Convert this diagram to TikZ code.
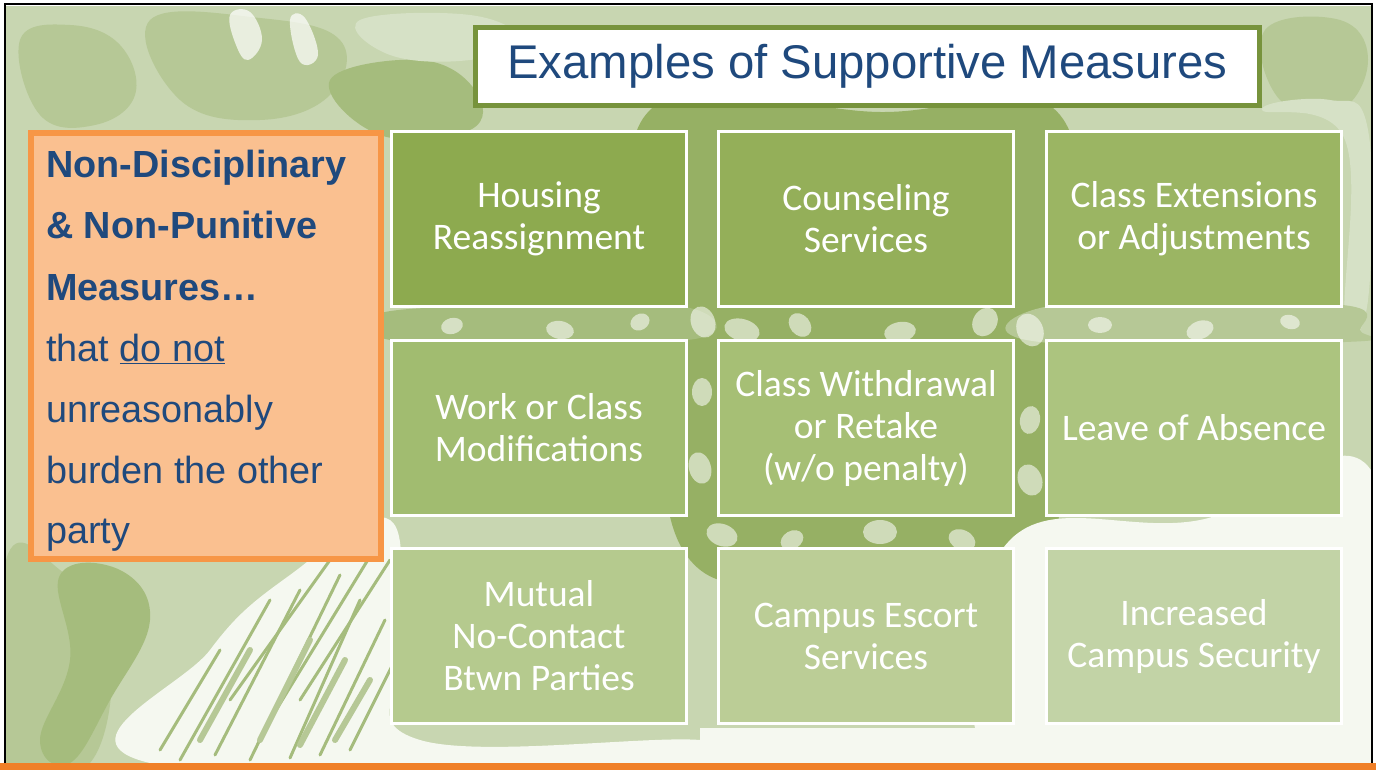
\documentclass[tikz,border=0pt]{standalone}
\usepackage{fontspec}
\setmainfont{Carlito}
\newfontfamily\arialf{Liberation Sans}
\definecolor{navy}{RGB}{31,73,125}
\definecolor{titlegreen}{RGB}{119,147,60}
\definecolor{orangeedge}{RGB}{247,150,70}
\definecolor{orangefill}{RGB}{250,192,144}
\definecolor{orangebar}{RGB}{240,128,40}
\definecolor{bgbase}{RGB}{200,214,177}
\definecolor{bglight}{RGB}{214,225,198}
\definecolor{bgmid}{RGB}{182,200,150}
\definecolor{bgdark}{RGB}{165,188,125}
\definecolor{bgdeep}{RGB}{150,176,100}
\definecolor{bgwhite}{RGB}{245,248,240}
\definecolor{tA}{RGB}{141,170,79}
\definecolor{tB}{RGB}{148,175,89}
\definecolor{tC}{RGB}{155,181,99}
\definecolor{tD}{RGB}{161,188,112}
\definecolor{tE}{RGB}{166,191,117}
\definecolor{tF}{RGB}{172,196,127}
\definecolor{tG}{RGB}{181,202,142}
\definecolor{tH}{RGB}{187,205,150}
\definecolor{tI}{RGB}{194,211,166}
\begin{document}
\begin{tikzpicture}[x=1pt,y=-1pt,
  tile/.style={draw=white,line width=3pt,minimum width=295pt,minimum height=175pt,
    inner sep=0pt,text=white,align=center,font=\fontsize{37.5}{42}\selectfont},
  lefttext/.style={anchor=base west,inner sep=0pt,text=navy,font=\arialf\fontsize{37.8}{45}\selectfont},
  leftbold/.style={lefttext,font=\arialf\bfseries\fontsize{37.8}{45}\selectfont},
  blob/.style={smooth cycle,tension=0.7},
]
\useasboundingbox (0,0) rectangle (1376,770);
\fill[white] (0,0) rectangle (1376,770);
% ---------- background texture ----------
\begin{scope}
\clip (6,6) rectangle (1371,763);
\fill[bgbase] (6,6) rectangle (1371,763);
\fill[bgmid] plot[blob] coordinates {(20,40) (70,25) (120,45) (135,95) (95,125) (40,115)};
\fill[bgmid] plot[blob] coordinates {(150,20) (260,18) (340,40) (330,95) (260,120) (180,100)};
\fill[bgdark] plot[blob] coordinates {(330,80) (420,60) (475,90) (470,130) (380,135)};
\fill[bglight] plot[blob] coordinates {(360,20) (470,15) (520,40) (470,60) (390,55)};
\fill[white,opacity=0.7] plot[blob] coordinates {(230,15) (250,12) (262,40) (248,60) (236,45)};
\fill[white,opacity=0.7] plot[blob] coordinates {(290,20) (305,18) (318,55) (300,62)};
\fill[bgmid] plot[blob] coordinates {(1265,30) (1340,20) (1368,60) (1340,110) (1280,100)};
\fill[bglight] plot[blob] coordinates {(1262,110) (1330,100) (1368,130) (1368,300) (1345,320) (1345,140)};
% central darker area behind tiles
\fill[bgdeep] plot[blob] coordinates {(650,110) (880,112) (1060,115) (1060,330) (1040,560) (860,570) (690,560) (660,330)};
\fill[bgdark] plot[blob] coordinates {(385,312) (560,306) (690,308) (700,338) (540,342) (390,340)};
\fill[bgmid] plot[blob] coordinates {(1040,308) (1200,304) (1350,306) (1360,330) (1345,342) (1040,342)};
% pale petals in gaps
\foreach \cx/\cy/\rx/\ry/\a in {703/322/12/16/20, 742/330/18/11/-15, 800/325/10/13/40, 900/332/16/10/10,
  985/322/12/15/-30, 1030/330/13/17/25, 702/392/10/14/0, 700/468/11/16/15, 1030/420/10/14/-10,
  1030/480/12/16/20, 722/535/16/11/-20, 792/540/12/9/30, 880/532/17/12/0, 962/540/14/10/-25,
  452/326/11/8/15, 560/330/14/9/-10, 640/322/10/8/30, 1100/325/12/8/0, 1200/330/14/9/20, 1290/322/10/7/-15}
  \fill[white,opacity=0.55,rotate around={\a:(\cx,\cy)}] (\cx,\cy) ellipse[x radius=\rx,y radius=\ry];
% bottom-right white
\fill[bgwhite] plot[blob] coordinates {(1010,540) (1200,520) (1371,470) (1371,763) (1100,763) (980,745)};
\fill[bgwhite] (700,728) rectangle (1371,763);
% left lower area
\fill[bgmid] plot[blob] coordinates {(6,560) (60,570) (110,640) (90,763) (6,763)};
\fill[bgdark] plot[blob] coordinates {(60,575) (120,570) (150,620) (110,700) (70,763) (40,740) (70,660)};
% white streaks bottom-left
\fill[bgwhite] plot[blob] coordinates {(150,763) (210,650) (290,575) (390,520) (400,650) (420,740) (700,740) (700,763)};
\foreach \xa/\ya/\xb/\yb in {180/760/270/600, 215/755/300/590, 250/760/340/575, 290/758/360/600,
  320/755/385/620, 350/750/395/660, 230/700/330/560, 270/720/380/540, 160/750/220/650, 300/700/390/560}
  \draw[bgdark,line width=3pt,line cap=round] (\xa,\ya) -- (\xb,\yb);
\foreach \xa/\ya/\xb/\yb in {200/740/250/650, 260/740/310/640, 300/745/345/660, 335/740/370/680}
  \draw[bgmid,line width=6pt,line cap=round] (\xa,\ya) -- (\xb,\yb);
\end{scope}
% ---------- frame ----------
\fill[orangebar] (0,763) rectangle (1376,770);
\draw[black,line width=2.5pt] (5,763) -- (5,4) -- (1372,4) -- (1372,763);
% ---------- title ----------
\node[draw=titlegreen,fill=white,line width=5pt,minimum width=784pt,minimum height=78pt,inner sep=0pt]
  (titlebox) at (867.5,66.5) {};
\node[anchor=base,inner sep=0pt,text=navy,font=\arialf\fontsize{47.3}{56}\selectfont]
  (title) at (867.5,79) {Examples of Supportive Measures};
% ---------- left box ----------
\node[draw=orangeedge,fill=orangefill,line width=6pt,minimum width=350pt,minimum height=426pt,inner sep=0pt]
  (leftbox) at (206,346) {};
\node[leftbold] (l1) at (46,178) {Non-Disciplinary};
\node[leftbold] (l2) at (46,239) {\& Non-Punitive};
\node[leftbold] (l3) at (46,300) {Measures…};
\node[lefttext] (l4) at (46,361) {that \underline{do not}};
\node[lefttext] (l5) at (46,422) {unreasonably};
\node[lefttext] (l6) at (46,483) {burden the other};
\node[lefttext] (l7) at (46,543) {party};
% ---------- tiles ----------
\node[tile,fill=tA] (t11) at (539,219) {Housing\\Reassignment};
\node[tile,fill=tB] (t12) at (866,219) {Counseling\\Services};
\node[tile,fill=tC] (t13) at (1194,219) {Class Extensions\\or Adjustments};
\node[tile,fill=tD] (t21) at (539,428) {Work or Class\\Modifications};
\node[tile,fill=tE] (t22) at (866,428) {Class Withdrawal\\or Retake\\(w/o penalty)};
\node[tile,fill=tF] (t23) at (1194,428) {Leave of Absence};
\node[tile,fill=tG] (t31) at (539,636) {Mutual\\No-Contact\\Btwn Parties};
\node[tile,fill=tH] (t32) at (866,636) {Campus Escort\\Services};
\node[tile,fill=tI] (t33) at (1194,636) {Increased\\Campus Security};
\end{tikzpicture}
\end{document}
